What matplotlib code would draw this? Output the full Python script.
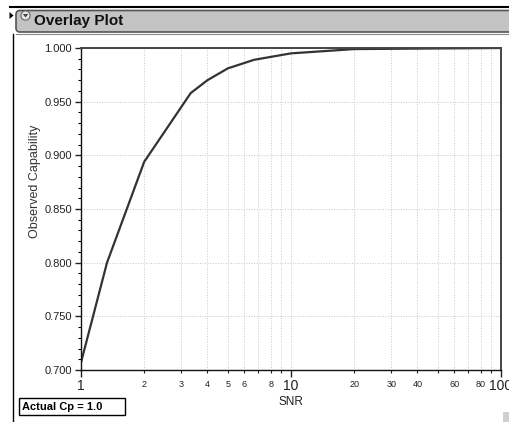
import matplotlib
matplotlib.use("Agg")
import matplotlib.pyplot as plt
from matplotlib.patches import FancyBboxPatch, Rectangle, Polygon, Circle
from matplotlib.lines import Line2D
from matplotlib.transforms import Affine2D
from matplotlib.ticker import FixedLocator, FixedFormatter, NullFormatter

# ---- data ----
snr = [1, 1.33, 2, 3.33, 4, 5, 6.67, 10, 20, 100]
capability = [0.707, 0.800, 0.894, 0.958, 0.970, 0.981, 0.989, 0.995, 0.999, 1.000]

x_major = [1, 10, 100]
x_major_labels = ["1", "10", "100"]
x_minor = [2, 3, 4, 5, 6, 7, 8, 9, 20, 30, 40, 50, 60, 70, 80, 90]
x_minor_labels = ["2", "3", "4", "5", "6", "", "8", "", "20", "30", "40", "", "60", "", "80", ""]
y_major = [0.70, 0.75, 0.80, 0.85, 0.90, 0.95, 1.00]
y_minor = [0.70 + 0.01 * i for i in range(31)]

title_text = "Overlay Plot"
x_label = "SNR"
y_label = "Observed Capability"
note_text = "Actual Cp = 1.0"

plt.rcParams['font.family'] = ['Liberation Sans', 'DejaVu Sans']

W, H = 509, 422
fig = plt.figure(figsize=(W / 100, H / 100), dpi=100)
fig.patch.set_facecolor("white")
# pixel transform: (x from left, y from top)
pix = Affine2D().scale(1 / 100, -1 / 100).translate(0, H / 100) + fig.dpi_scale_trans

# ---- header ----
fig.add_artist(Line2D([10, 509], [7, 7], color="black", lw=1.5, transform=pix))
bar = FancyBboxPatch((16, 10.5), 520, 21.5, boxstyle="round,pad=0,rounding_size=4",
                     facecolor="#c3c3c3", edgecolor="#555555", lw=1.2, transform=pix)
fig.add_artist(bar)
fig.add_artist(Line2D([16, 509], [33.5, 33.5], color="#888888", lw=0.8, transform=pix))
fig.add_artist(Polygon([(9.5, 12), (13.5, 15.5), (9.5, 19)], closed=True,
                       facecolor="black", edgecolor="none", transform=pix))
fig.add_artist(Circle((25.5, 15.5), 4.6, facecolor="#e6e6e6", edgecolor="#666666",
                      lw=0.8, transform=pix))
fig.add_artist(Polygon([(22.8, 14), (28.2, 14), (25.5, 17.5)], closed=True,
                       facecolor="#444444", edgecolor="none", transform=pix))
fig.text(34 / W, 1 - 21.5 / H, title_text, fontsize=11, fontweight="bold",
         color="#111111", ha="left", va="center")

# left frame line
fig.add_artist(Line2D([13, 13], [34, 422], color="black", lw=1.0, transform=pix))

# ---- axes ----
ax = fig.add_axes([81 / W, 1 - 370 / H, (501 - 81) / W, (370 - 48) / H])
ax.plot(snr, capability, color="#333333", lw=1.6, solid_joinstyle="round")
ax.set_xscale("log")
ax.set_xlim(1, 100)
ax.set_ylim(0.70, 1.00)

ax.xaxis.set_major_locator(FixedLocator(x_major))
ax.xaxis.set_major_formatter(FixedFormatter(x_major_labels))
ax.xaxis.set_minor_locator(FixedLocator(x_minor))
ax.xaxis.set_minor_formatter(FixedFormatter(x_minor_labels))
ax.yaxis.set_major_locator(FixedLocator(y_major))
ax.yaxis.set_major_formatter(FixedFormatter(["%.3f" % v for v in y_major]))
ax.yaxis.set_minor_locator(FixedLocator(y_minor))
ax.yaxis.set_minor_formatter(NullFormatter())

ax.tick_params(axis="x", which="major", direction="out", length=5, width=1,
               labelsize=10, pad=1.5, colors="#222222")
ax.tick_params(axis="x", which="minor", direction="out", length=2.5, width=0.8,
               labelsize=6.5, pad=4.5, colors="#222222")
ax.tick_params(axis="y", which="major", direction="out", length=4, width=1,
               labelsize=8, pad=2.5, colors="#222222")
ax.tick_params(axis="y", which="minor", direction="out", length=2.5, width=0.8)

ax.grid(True, which="both", axis="x", color="#c8c8c8", lw=0.7, ls=":")
ax.grid(True, which="major", axis="y", color="#c8c8c8", lw=0.7, ls=":")
ax.set_axisbelow(True)

for s in ["left", "bottom"]:
    ax.spines[s].set_color("#111111")
    ax.spines[s].set_linewidth(1.0)
for s in ["top", "right"]:
    ax.spines[s].set_color("#444444")
    ax.spines[s].set_linewidth(1.4)

fig.text(291 / W, 1 - 402 / H, x_label, fontsize=8.5, color="#222222",
         ha="center", va="center")
fig.text(35 / W, 1 - 181 / H, y_label, fontsize=9, color="#333333",
         ha="center", va="center", rotation=90)

# ---- note box ----
fig.add_artist(Rectangle((19, 398), 106, 17, facecolor="white", edgecolor="black",
                         lw=1.0, transform=pix))
fig.text(22.5 / W, 1 - 407 / H, note_text, fontsize=8, fontweight="bold",
         color="black", ha="left", va="center")

# small gray square bottom right
fig.add_artist(Rectangle((503, 412), 7, 11, facecolor="#cfcfcf", edgecolor="none",
                         transform=pix))

fig.savefig("out.png", dpi=100)
